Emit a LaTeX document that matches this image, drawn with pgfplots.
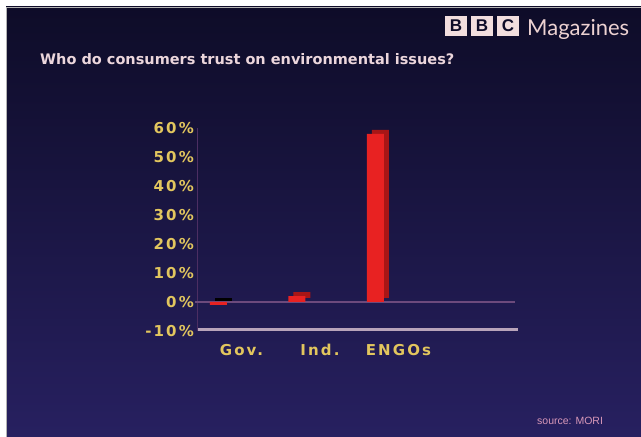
\documentclass[border=0pt]{standalone}
\usepackage{fontspec}
\usepackage{pgfplots}
\pgfplotsset{compat=1.18}
\setmainfont{DejaVu Sans}
\newfontfamily\tickfont[LetterSpace=14]{DejaVu Sans}
\newfontfamily\logofont{Lato}
\newfontfamily\srcfont{Liberation Sans}

\definecolor{bgtop}{HTML}{0E0C28}
\definecolor{bgbot}{HTML}{272060}
\definecolor{ticky}{HTML}{E2C65E}
\definecolor{titlec}{HTML}{ECD6DC}
\definecolor{barfront}{HTML}{E82222}
\definecolor{barside}{HTML}{A81616}
\definecolor{zeroc}{HTML}{6C4A7C}
\definecolor{floorc}{HTML}{B8A4BA}
\definecolor{axisc}{HTML}{4C2E62}
\definecolor{logobox}{HTML}{F2DEDE}
\definecolor{logotext}{HTML}{EDD2D2}
\definecolor{srcc}{HTML}{D898B8}

\begin{document}
\begin{tikzpicture}[x=1bp,y=1bp]
% slide background
\fill[white] (0,0) rectangle (641,437);
\shade[top color=bgtop, bottom color=bgbot] (6,0) rectangle (641,430);
\draw[gray!60, line width=0.6bp] (6,0) -- (6,430) -- (641,430);

% logo
\foreach \x/\l in {445/B,471/B,497/C} {
  \fill[logobox] (\x,401) rectangle ++(22,20);
  \node[font=\srcfont\bfseries\fontsize{17bp}{18bp}\selectfont, text=bgtop, inner sep=0pt] at (\x+11,411) {\l};
}
\node[anchor=base west, inner sep=0pt, font=\logofont\fontsize{22bp}{24bp}\selectfont, text=logotext] at (527,401) {Magazines};

% title
\node[anchor=base west, inner sep=0pt, font=\bfseries\fontsize{14.5bp}{17bp}\selectfont, text=titlec] at (40,372) {Who do consumers trust on environmental issues?};

% source
\node[anchor=base west, inner sep=0pt, font=\srcfont\fontsize{10.5bp}{12bp}\selectfont, text=srcc] at (537,12) {source: MORI};

\begin{axis}[
  at={(200bp,106bp)}, anchor=south west,
  scale only axis, width=317bp, height=203bp,
  xmin=-0.235, xmax=3.803, ymin=-10, ymax=60,
  axis line style={draw=none}, major tick length=0pt,
  ytick={-10,0,10,20,30,40,50,60},
  yticklabels={-10\%,0\%,10\%,20\%,30\%,40\%,50\%,60\%},
  xtick={0,1,2}, xticklabels={Gov.,Ind.,ENGOs},
  ticklabel style={font=\tickfont\bfseries\fontsize{15bp}{17bp}\selectfont, text=ticky},
  yticklabel style={anchor=east, xshift=-6bp, inner sep=0pt},
  xticklabel style={anchor=base, xshift=23bp, yshift=-25bp, inner sep=0pt},
  clip=false,
]
% back lines of the chart frame
\draw[axisc, line width=1bp] ([xshift=-3bp]axis cs:-0.235,-10) -- ([xshift=-3bp]axis cs:-0.235,60);
\draw[zeroc, line width=1.5bp] ([xshift=-5bp]axis cs:-0.235,0) -- ([xshift=-2bp]axis cs:3.803,0);
\draw[floorc, line width=3bp] ([xshift=-2bp,yshift=1.5bp]axis cs:-0.235,-10) -- ([xshift=1bp,yshift=1.5bp]axis cs:3.803,-10);

% depth faces of the bars
\addplot[ybar, bar width=17bp, bar shift=5bp, yshift=4bp, fill=black, draw=none] coordinates {(0,-1)};
\addplot[ybar, bar width=17bp, bar shift=5bp, yshift=4bp, fill=barside, draw=none] coordinates {(1,2) (2,58)};
% front faces
\addplot[ybar, bar width=17bp, bar shift=0bp, fill=barfront, draw=none] coordinates {(0,-1) (1,2) (2,58)};
\end{axis}

\pgfresetboundingbox
\path[use as bounding box] (0,0) rectangle (641,437);
\end{tikzpicture}
\end{document}
